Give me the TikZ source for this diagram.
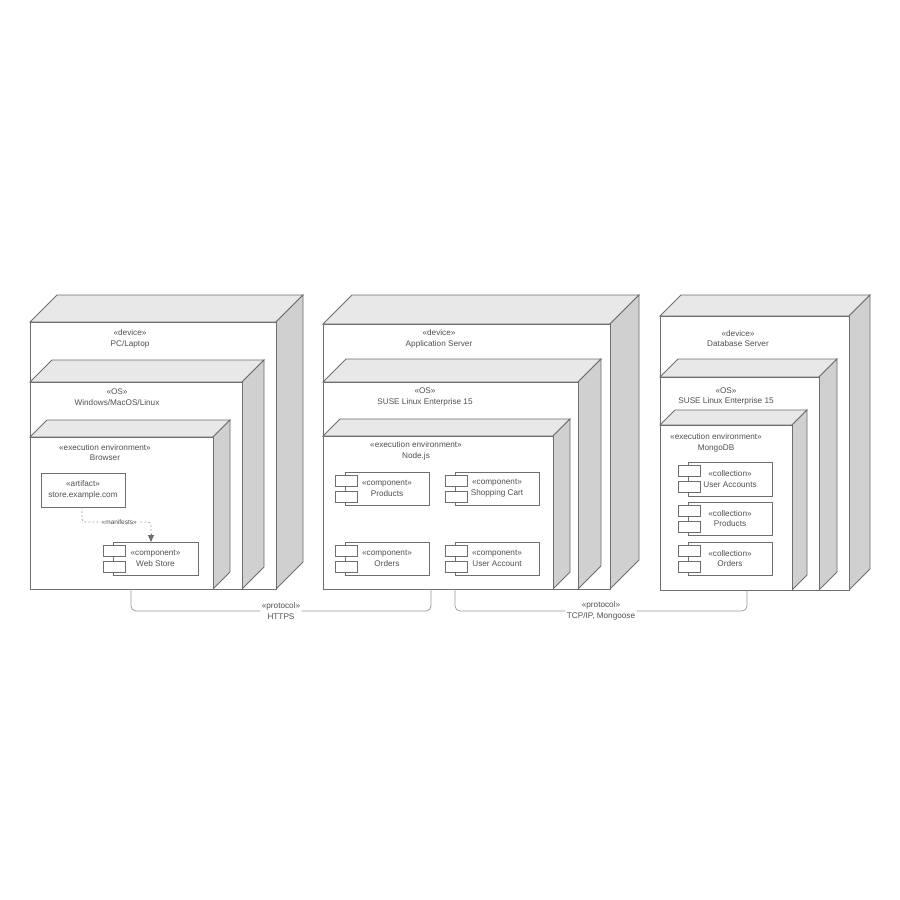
\documentclass[tikz,border=0pt]{standalone}
\usepackage{fontspec}
\setmainfont{Liberation Sans}
\usetikzlibrary{calc,arrows.meta}
\definecolor{edge}{HTML}{6E6E6E}
\definecolor{topf}{HTML}{E8E8E8}
\definecolor{sidef}{HTML}{D0D0D0}
\definecolor{txt}{HTML}{505050}
\definecolor{dashc}{HTML}{A8A8A8}
\tikzset{
  cubeline/.style={draw=edge, line width=0.9pt, line join=miter},
  frontface/.style={draw=edge, line width=0.9pt, fill=white, rectangle, inner sep=0pt, outer sep=0pt},
  lbl/.style={text=txt, font=\fontsize{8.2}{10.8}\selectfont, align=center, inner sep=0pt},
  compbox/.style={draw=edge, line width=0.8pt, fill=white, rectangle, inner sep=0pt, outer sep=0pt, text=txt, font=\fontsize{8.2}{10.8}\selectfont, align=center},
  tabbox/.style={draw=edge, line width=0.8pt, fill=white, rectangle, inner sep=0pt, outer sep=0pt, minimum width=22pt, minimum height=11pt},
  proto/.style={draw=dashc!90!black, line width=0.7pt, rounded corners=5pt},
  protolbl/.style={fill=white, text=txt, font=\fontsize{8.2}{10.8}\selectfont, align=center, inner sep=1.5pt},
  manif/.style={draw=dashc, line width=0.8pt, dash pattern=on 2pt off 2pt, rounded corners=3pt},
}
% name, x1, y1, x2, y2, depth
\newcommand\cubebox[6]{%
  \filldraw[cubeline, fill=topf] (#2,#3) -- ({#2+#6},{#3-#6}) -- ({#4+#6},{#3-#6}) -- (#4,#3) -- cycle;
  \filldraw[cubeline, fill=sidef] (#4,#3) -- ({#4+#6},{#3-#6}) -- ({#4+#6},{#5-#6}) -- (#4,#5) -- cycle;
  \node[frontface, minimum width={(#4-#2)*1pt}, minimum height={(#5-#3)*1pt}, anchor=north west] (#1) at (#2,#3) {};
}
% name, x1, y1, x2, y2, text
\newcommand\compnode[6]{%
  \node[compbox, minimum width={(#4-#2)*1pt}, minimum height={(#5-#3)*1pt}, anchor=north west] (#1) at (#2,#3) {#6};
  \node[tabbox] (#1t1) at ({#2+1},{#3+8.5}) {};
  \node[tabbox] (#1t2) at ({#2+1},{#3+24.5}) {};
}
\begin{document}
\begin{tikzpicture}[x=1pt, y=-1pt]
\useasboundingbox (0,0) rectangle (900,900);
\fill[white] (0,0) rectangle (900,900);

% ---------- PC/Laptop ----------
\cubebox{dev1}{30}{322}{276}{589}{27}
\node[lbl] (dev1l) at (130,338.5) {«device»\\PC/Laptop};
\cubebox{os1}{30}{382}{242}{589}{22}
\node[lbl] (os1l) at (117,397) {«OS»\\Windows/MacOS/Linux};
\cubebox{env1}{30}{437}{213}{589}{17}
\node[lbl] (env1l) at (105,452.5) {«execution environment»\\Browser};
\node[compbox, minimum width=84pt, minimum height=34pt, anchor=north west] (art) at (41,473) {«artifact»\\store.example.com};
\compnode{web}{113}{542}{198}{575}{«component»\\Web Store}
\draw[manif] ($(art.south west)+(41,0)$) -- ++(0,15) -| ($(web.north west)+(38,-8)$)
  node[pos=0.27, fill=white, inner sep=1pt, text=txt, font=\fontsize{6.5}{8}\selectfont] (manl) {«manifests»};
\draw[draw=edge, line width=0.8pt, -{Triangle[width=6pt,length=7pt]}, fill=edge] ($(web.north west)+(38,-8.5)$) -- ($(web.north west)+(38,0)$);

% ---------- Application Server ----------
\cubebox{dev2}{323}{324}{610}{589}{29}
\node[lbl] (dev2l) at (439,338.5) {«device»\\Application Server};
\cubebox{os2}{323}{382}{578}{589}{23}
\node[lbl] (os2l) at (425,397) {«OS»\\SUSE Linux Enterprise 15};
\cubebox{env2}{323}{436}{553}{589}{17}
\node[lbl] (env2l) at (416,451) {«execution environment»\\Node.js};
\compnode{prod}{345}{472}{429}{505}{«component»\\Products}
\compnode{cart}{455}{472}{539}{505}{«component»\\Shopping Cart}
\compnode{ord}{345}{542}{429}{575}{«component»\\Orders}
\compnode{acct}{455}{542}{539}{575}{«component»\\User Account}

% ---------- Database Server ----------
\cubebox{dev3}{660}{316}{849}{590}{21}
\node[lbl] (dev3l) at (738,338.5) {«device»\\Database Server};
\cubebox{os3}{660}{377}{819}{590}{18}
\node[lbl] (os3l) at (726,396.5) {«OS»\\SUSE Linux Enterprise 15};
\cubebox{env3}{660}{425}{792}{590}{15}
\node[lbl] (env3l) at (716,442.5) {«execution environment»\\MongoDB};
\compnode{cua}{688}{462}{772}{496}{«collection»\\User Accounts}
\compnode{cpr}{688}{502}{772}{535}{«collection»\\Products}
\compnode{cor}{688}{542}{772}{575}{«collection»\\Orders}

% ---------- protocols ----------
\draw[proto] ($(dev1.south west)+(101,0)$) -- ++(0,22) -- node[protolbl] (p1) {«protocol»\\HTTPS} ($(dev2.south west)+(108,22)$) -- ($(dev2.south west)+(108,0)$);
\draw[proto] ($(dev2.south west)+(132,0)$) -- ++(0,22) -- node[protolbl] (p2) {«protocol»\\TCP/IP, Mongoose} ($(dev3.south west)+(87,21)$) -- ($(dev3.south west)+(87,0)$);
\end{tikzpicture}
\end{document}
